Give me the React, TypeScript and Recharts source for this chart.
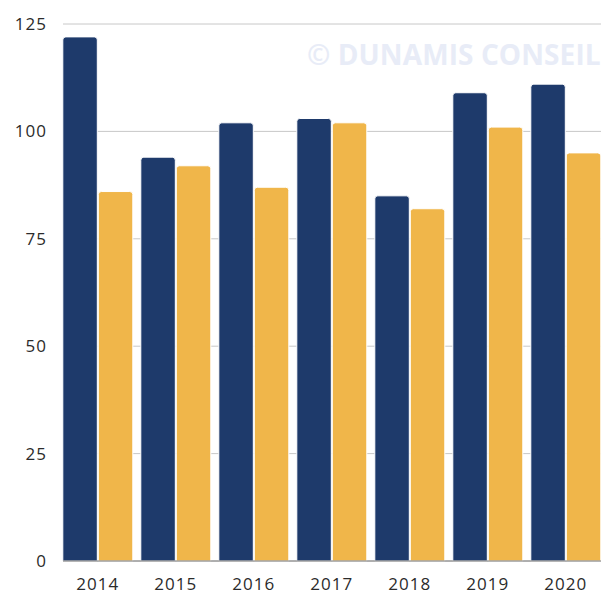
import { BarChart, Bar, XAxis, YAxis, CartesianGrid } from 'recharts';

const years = ['2014', '2015', '2016', '2017', '2018', '2019', '2020'];
const seriesA = [122, 94, 102, 103, 85, 109, 111];
const seriesB = [86, 92, 87, 102, 82, 101, 95];
const yTicks = [0, 25, 50, 75, 100, 125];

const data = years.map((year, i) => ({ year, a: seriesA[i], b: seriesB[i] }));

const tickStyle = { fill: '#2b2b2b', fontSize: 17, fontFamily: '"Open Sans", sans-serif', letterSpacing: 1 };

export default function App() {
  return (
    <div style={{ position: 'absolute', left: 0, top: 0, width: 602, height: 594, background: '#fff' }}>
      <div
        style={{
          position: 'absolute',
          left: 307,
          top: 40,
          lineHeight: 1,
          fontFamily: '"Open Sans", sans-serif',
          fontWeight: 700,
          fontSize: 28,
          letterSpacing: 0.1,
          color: '#e8ecf7',
          whiteSpace: 'nowrap',
        }}
      >
        © DUNAMIS CONSEIL
      </div>
      <BarChart
        width={602}
        height={594}
        data={data}
        margin={{ top: 24, right: 1, left: 0, bottom: 0 }}
        barGap={1}
        style={{ position: 'absolute', left: 0, top: 0 }}
      >
        <CartesianGrid vertical={false} stroke="#c8c8c8" />
        <XAxis
          dataKey="year"
          height={33}
          padding={{ left: -4.2, right: -3.8 }}
          tickLine={false}
          axisLine={{ stroke: '#7a7a7a' }}
          tickMargin={11}
          tick={tickStyle}
        />
        <YAxis
          width={63}
          domain={[0, 125]}
          ticks={yTicks}
          tickLine={false}
          axisLine={false}
          tickMargin={10}
          tick={tickStyle}
        />
        <Bar dataKey="a" fill="#1e3a6b" stroke="#ffffff" strokeWidth={1} barSize={34.5} radius={[3, 3, 0, 0]} isAnimationActive={false} />
        <Bar dataKey="b" fill="#f0b64a" stroke="#ffffff" strokeWidth={1} barSize={34.5} radius={[3, 3, 0, 0]} isAnimationActive={false} />
      </BarChart>
    </div>
  );
}
